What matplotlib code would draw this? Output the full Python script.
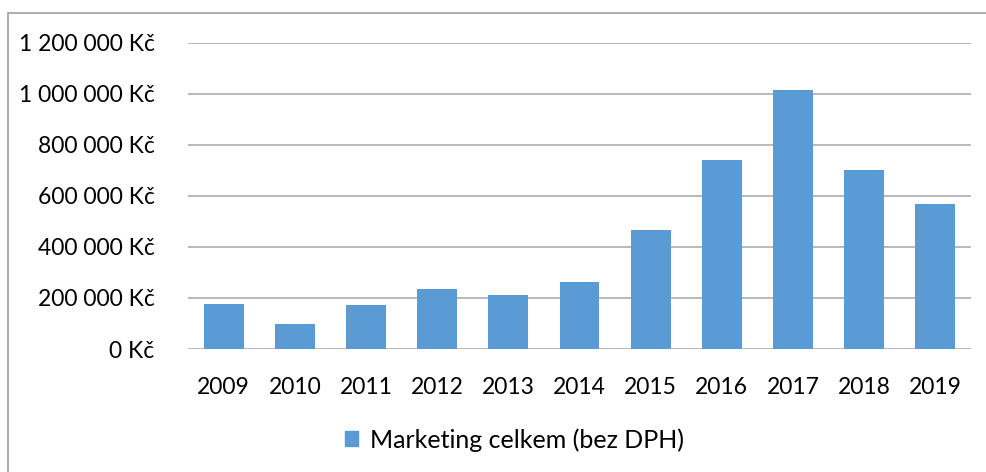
import matplotlib.pyplot as plt
from matplotlib.patches import Rectangle, Patch
from matplotlib.ticker import FuncFormatter

roky = ["2009", "2010", "2011", "2012", "2013", "2014", "2015", "2016", "2017", "2018", "2019"]
marketing = [175000, 98000, 173000, 234000, 213000, 262000, 465000, 741000, 1015000, 703000, 570000]

plt.rcParams['font.family'] = ['Lato', 'DejaVu Sans']

W, H = 986, 472
fig = plt.figure(figsize=(W / 100, H / 100), dpi=100)
fig.patches.append(Rectangle((8 / W, -0.1), 1.2, (H - 13) / H + 0.1, transform=fig.transFigure,
                             fill=False, edgecolor="#a0a0a0", linewidth=1.2))

ax = fig.add_axes([188 / W, (H - 349) / H, (971 - 188) / W, (349 - 43) / H])
x = range(len(roky))
ax.bar(x, marketing, width=0.56, color="#5b9bd5", zorder=3)
ax.set_xlim(-0.5, len(roky) - 0.5)
ax.set_ylim(0, 1200000)
ax.set_yticks(range(0, 1200001, 200000))
ax.yaxis.set_major_formatter(FuncFormatter(lambda v, p: f"{int(v):,}".replace(",", " ") + " Kč"))
ax.set_xticks(list(x))
ax.set_xticklabels(roky)
ax.grid(axis="y", color="#a6a6a6", linewidth=1.1, zorder=0)
for s in ax.spines.values():
    s.set_visible(False)
ax.tick_params(length=0, labelsize=16.5, colors="black")
ax.tick_params(axis="x", pad=20)
ax.tick_params(axis="y", pad=24)

fig.legend(handles=[Patch(color="#5b9bd5", label="Marketing celkem (bez DPH)")],
           loc="center", bbox_to_anchor=(514 / W, (H - 440) / H), frameon=False,
           fontsize=18, handlelength=0.55, handleheight=0.55, handletextpad=0.45)

fig.savefig("out.png", dpi=100)
